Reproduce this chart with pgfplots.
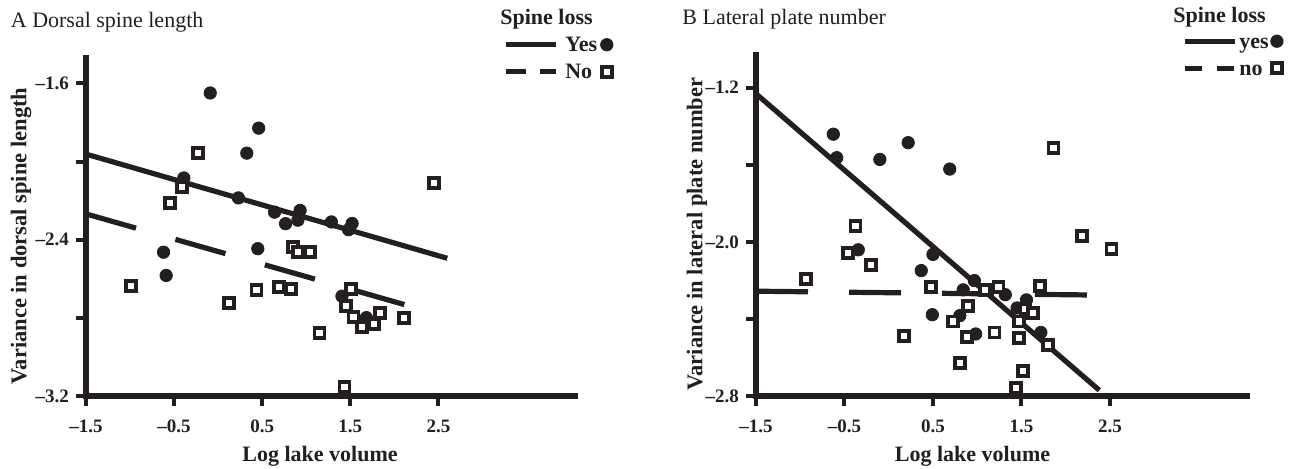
\documentclass[border=0pt]{standalone}
\usepackage{pgfplots}
\pgfplotsset{compat=1.18}
\usepackage{fontspec}
\setmainfont{Liberation Serif}
\definecolor{ink}{RGB}{35,31,32}
% picture coordinates: 1 px of the 1291x468 reference = 0.5pt, origin bottom left

\pgfplotsset{
  panel/.style={
    scale only axis,
    axis x line=bottom, axis y line=left,
    axis line style={-, line width=2.6pt, ink, line cap=rect},
    tick align=outside,
    major tick length=5pt,
    tick style={line width=2pt, ink},
    xmin=-1.5, xmax=4.05,
    xtick={-1.5,-0.5,0.5,1.5,2.5},
    xticklabels={\textendash1.5,\textendash0.5,0.5,1.5,2.5},
    ticklabel style={font=\fontsize{9.5}{11}\selectfont\bfseries, text=ink},
    xticklabel style={yshift=-3.5pt},
    clip=false,
    legend columns=2,
    legend style={
      draw=none, fill=none, inner sep=0pt, outer sep=0pt,
      anchor=north west,
      font=\fontsize{11}{12}\selectfont\bfseries, text=ink,
      nodes={inner sep=0pt, text height=7pt, text depth=2pt, anchor=base west},
      row sep=4.5pt, column sep=0pt,
    },
  },
  yes/.style={only marks, mark=*, mark size=3.1pt, ink,
    mark options={fill=ink, draw=ink, line width=0.4pt}},
  no/.style={only marks, mark=square*, mark size=2.5pt, ink,
    mark options={fill=white, draw=ink, line width=1.9pt}},
  fit/.style={no marks, line width=2.6pt, ink, line cap=butt},
  legsolid/.style={legend image code/.code={
    \draw[line width=2.6pt, ink] (0pt,3.5pt) -- (25pt,3.5pt);}},
  legdash/.style={legend image code/.code={
    \draw[line width=2.6pt, ink, dash pattern=#1] (0pt,3.5pt) -- (25pt,3.5pt);}},
  legdot/.style={legend image code/.code={
    \draw[only marks, mark=*, mark size=3.1pt, mark options={fill=ink, draw=ink, line width=0.4pt}]
      plot coordinates {(3.4pt,3.5pt)};}},
  legsq/.style={legend image code/.code={
    \draw[only marks, mark=square*, mark size=2.5pt, mark options={fill=white, draw=ink, line width=1.9pt}]
      plot coordinates {(3.4pt,3.5pt)};}},
}

\begin{document}
\begin{tikzpicture}
\useasboundingbox (0,0) rectangle (645.5pt,234pt);

% ---------------- A: dorsal spine length
\begin{axis}[panel,
  at={(43pt,36pt)}, anchor=south west,
  width=244.5pt, height=169pt,
  ymin=-3.2, ymax=-1.47,
  ytick={-3.2,-2.8,-2.4,-2.0,-1.6},
  yticklabels={\textendash3.2,,\textendash2.4,,\textendash1.6},
  legend style={at={(0.853,1.06)},
    /tikz/every odd column/.style={column sep=3.5pt},
    /tikz/every even column/.style={column sep=1.75pt}},
]
\addplot[fit, forget plot] coordinates {(-1.5,-1.962) (2.6,-2.495)};
\addplot[fit, dash pattern=on 26pt off 20.5pt, forget plot] coordinates {(-1.5,-2.268) (2.167,-2.739)};
\addplot[yes, forget plot] coordinates {
  (-0.09,-1.649) (0.46,-1.829) (0.325,-1.957) (-0.39,-2.084) (0.23,-2.186)
  (0.64,-2.259) (0.93,-2.250) (0.905,-2.300) (0.765,-2.318) (1.285,-2.309)
  (1.52,-2.317) (1.48,-2.349) (0.45,-2.446) (-0.62,-2.464) (-0.59,-2.583)
  (1.405,-2.689) (1.682,-2.799)
};
\addplot[no, forget plot] coordinates {
  (-0.231,-1.958) (-0.412,-2.129) (-0.546,-2.214) (2.45,-2.108) (0.847,-2.436)
  (0.904,-2.461) (1.044,-2.463) (-0.99,-2.637) (0.436,-2.657) (0.69,-2.644)
  (0.824,-2.654) (0.119,-2.725) (1.508,-2.654) (1.45,-2.739) (1.537,-2.797)
  (1.63,-2.848) (1.77,-2.831) (1.833,-2.774) (2.11,-2.799) (1.15,-2.876)
  (1.434,-3.155)
};
\addlegendimage{legsolid}\addlegendentry{Yes}
\addlegendimage{legdot}\addlegendentry{\hbox{}}
\addlegendimage{legdash={on 10pt off 7pt}}\addlegendentry{No}
\addlegendimage{legsq}\addlegendentry{\hbox{}}
\end{axis}

% ---------------- B: lateral plate number
\begin{axis}[panel,
  at={(378pt,36pt)}, anchor=south west,
  width=245.5pt, height=170.5pt,
  ymin=-2.8, ymax=-1.03,
  ytick={-2.8,-2.4,-2.0,-1.6,-1.2},
  yticklabels={\textendash2.8,,\textendash2.0,,\textendash1.2},
  legend style={at={(0.868,1.061)},
    /tikz/every odd column/.style={column sep=1pt},
    /tikz/every even column/.style={column sep=1pt}},
]
\addplot[fit, forget plot] coordinates {(-1.5,-1.231) (2.38,-2.77)};
\addplot[fit, dash pattern=on 26pt off 20.5pt, forget plot] coordinates {(-1.5,-2.256) (2.34,-2.276)};
\addplot[yes, forget plot] coordinates {
  (-0.626,-1.441) (-0.588,-1.563) (-0.100,-1.572) (0.220,-1.485) (0.690,-1.622)
  (-0.344,-2.041) (0.500,-2.065) (0.368,-2.149) (0.968,-2.201) (0.842,-2.249)
  (1.318,-2.274) (1.557,-2.301) (1.451,-2.343) (0.493,-2.378) (0.804,-2.383)
  (0.983,-2.478) (1.720,-2.470)
};
\addplot[no, forget plot] coordinates {
  (-0.937,-2.192) (-0.458,-2.058) (-0.375,-1.919) (-0.202,-2.119) (0.177,-2.487)
  (0.474,-2.236) (0.728,-2.413) (0.804,-2.627) (0.888,-2.493) (0.899,-2.331)
  (1.090,-2.249) (1.196,-2.470) (1.241,-2.236) (1.440,-2.757) (1.477,-2.413)
  (1.477,-2.499) (1.519,-2.670) (1.546,-2.348) (1.633,-2.371) (1.709,-2.227)
  (1.805,-2.534) (1.862,-1.514) (2.186,-1.970) (2.519,-2.039)
};
\addlegendimage{legsolid}\addlegendentry{yes}
\addlegendimage{legdot}\addlegendentry{\hbox{}}
\addlegendimage{legdash={on 8.5pt off 7.5pt}}\addlegendentry{no}
\addlegendimage{legsq}\addlegendentry{\hbox{}}
\end{axis}

% ---------------- titles and labels
\begin{scope}[every node/.style={text=ink, inner sep=0pt}]
\node[anchor=base west, font=\fontsize{11}{13}\selectfont] at (5.25pt,220.5pt) {A Dorsal spine length};
\node[anchor=base west, font=\fontsize{11}{13}\selectfont] at (341pt,222pt) {B Lateral plate number};
\node[anchor=base west, font=\fontsize{11}{13}\selectfont\bfseries] at (250pt,222pt) {Spine loss};
\node[anchor=base west, font=\fontsize{11}{13}\selectfont\bfseries] at (586.5pt,223pt) {Spine loss};
\node[rotate=90, font=\fontsize{11.25}{13}\selectfont\bfseries] at (10.5pt,116pt) {Variance in dorsal spine length};
\node[rotate=90, font=\fontsize{11.25}{13}\selectfont\bfseries] at (348.5pt,117pt) {Variance in lateral plate number};
\node[anchor=base, font=\fontsize{11}{13}\selectfont\bfseries] at (160pt,3.5pt) {Log lake volume};
\node[anchor=base, font=\fontsize{11}{13}\selectfont\bfseries] at (486.25pt,3.5pt) {Log lake volume};
\end{scope}
\end{tikzpicture}
\end{document}
